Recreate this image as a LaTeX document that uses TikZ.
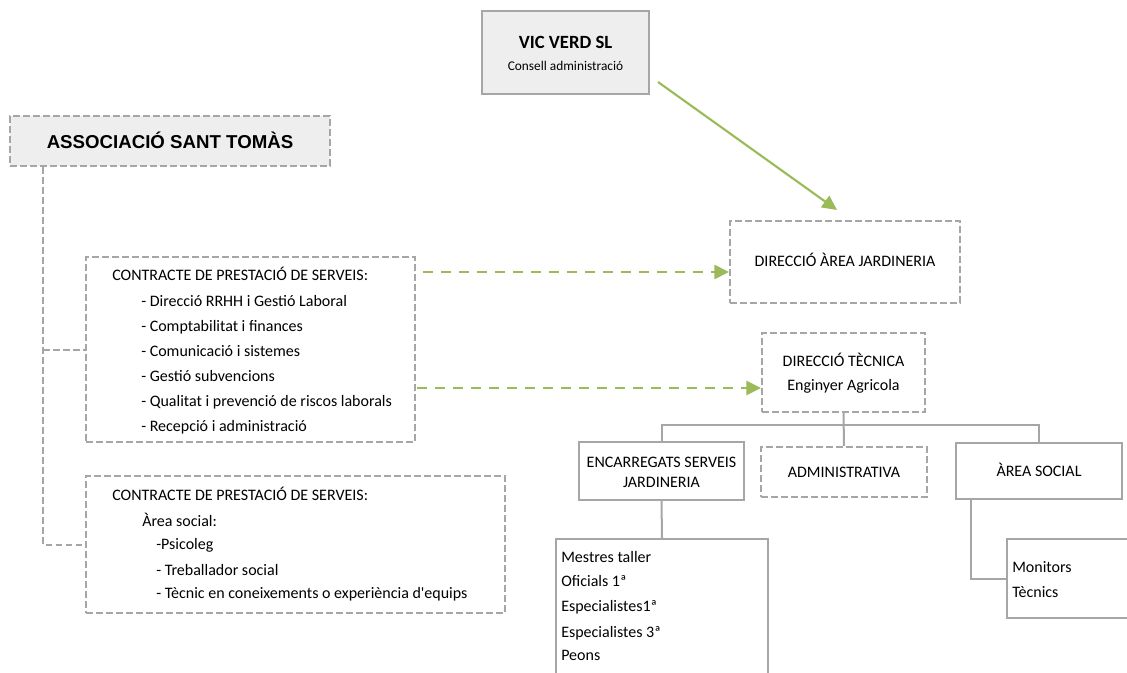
\documentclass[tikz,border=0pt]{standalone}
\usepackage{fontspec}
\setmainfont{Carlito}[Ligatures=TeXOff]
\newfontfamily\arialf{Liberation Sans}
\usetikzlibrary{arrows.meta}
\definecolor{lgray}{RGB}{166,166,166}
\definecolor{lfill}{RGB}{238,238,238}
\definecolor{vgreen}{RGB}{155,187,89}
\newcommand\bodyf{\fontsize{12}{14}\selectfont}
\begin{document}
\begin{tikzpicture}[x=0.75pt,y=-0.75pt,
  sbox/.style={draw=lgray, line width=1.5pt, inner sep=0pt, rectangle},
  dbox/.style={draw=lgray, line width=1.5pt, dash pattern=on 5pt off 2.5pt, inner sep=0pt, rectangle},
  conn/.style={draw=lgray, line width=1.5pt},
  dconn/.style={draw=lgray, line width=1.5pt, dash pattern=on 5pt off 2.5pt},
  garrow/.style={draw=vgreen, line width=1.6pt, -{Triangle[length=11pt,width=10.5pt]}},
  gdarrow/.style={garrow, line width=2pt, dash pattern=on 7.5pt off 6pt},
  tc/.style={anchor=base, inner sep=0pt, font=\bodyf},
  tl/.style={anchor=base west, inner sep=0pt, font=\bodyf}]
\useasboundingbox (0,0) rectangle (1127,673);
\clip (0,0) rectangle (1127,673);
\fill[white] (0,0) rectangle (1127,673);

% boxes
\node[sbox, line width=2pt, fill=lfill, minimum width=125.25pt, minimum height=62.25pt] (vic) at (565.5,52.5) {};
\node[dbox, fill=lfill, minimum width=240pt, minimum height=37.5pt] (ast) at (170,141) {};
\node[dbox, minimum width=172.5pt, minimum height=61.5pt] (daj) at (845,262) {};
\node[dbox, minimum width=246.75pt, minimum height=138.75pt] (c1) at (250.5,349.5) {};
\node[dbox, minimum width=314.25pt, minimum height=102.75pt] (c2) at (295.5,544.5) {};
\node[dbox, minimum width=122.25pt, minimum height=59.25pt] (dt) at (843.5,372.5) {};
\node[sbox, minimum width=123.75pt, minimum height=43.5pt] (enc) at (661.5,471) {};
\node[dbox, minimum width=124.5pt, minimum height=37.5pt] (adm) at (844,472) {};
\node[sbox, minimum width=124.5pt, minimum height=42pt] (as) at (1039,471) {};
\node[sbox, minimum width=159pt, minimum height=120.75pt] (lst) at (662,619.5) {};
\node[sbox, minimum width=99.75pt, minimum height=59.25pt] (mon) at (1073.5,578.5) {};

% texts
\node[tc, font=\bfseries\fontsize{14}{16}\selectfont] (vict) at (565.5,48.5) {VIC VERD SL};
\node[tc, font=\fontsize{10}{12}\selectfont] (vics) at (565.5,70.3) {Consell administració};
\node[tc, font=\arialf\bfseries\fontsize{14}{16}\selectfont] (astt) at (170,148.5) {ASSOCIACIÓ SANT TOMÀS};
\node[tc] (dajt) at (845,267) {DIRECCIÓ ÀREA JARDINERIA};
\node[tc] (dtt1) at (843.5,366) {DIRECCIÓ TÈCNICA};
\node[tc] (dtt2) at (843.5,390) {Enginyer Agricola};
\node[tc] (enct1) at (661.5,467) {ENCARREGATS SERVEIS};
\node[tc] (enct2) at (661.5,487) {JARDINERIA};
\node[tc] (admt) at (844,477) {ADMINISTRATIVA};
\node[tc] (ast1) at (1039,476) {ÀREA SOCIAL};

\node[tl] (c1t0) at (112,281) {CONTRACTE DE PRESTACIÓ DE SERVEIS:};
\node[tl] (c1t1) at (141,307) {- Direcció RRHH i Gestió Laboral};
\node[tl] (c1t2) at (141,331) {- Comptabilitat i finances};
\node[tl] (c1t3) at (141,356) {- Comunicació i sistemes};
\node[tl] (c1t4) at (141,381) {- Gestió subvencions};
\node[tl] (c1t5) at (141,406) {- Qualitat i prevenció de riscos laborals};
\node[tl] (c1t6) at (141,431) {- Recepció i administració};

\node[tl] (c2t0) at (112,500) {CONTRACTE DE PRESTACIÓ DE SERVEIS:};
\node[tl] (c2t1) at (142,526) {Àrea social:};
\node[tl] (c2t2) at (156,549) {-Psicoleg};
\node[tl] (c2t3) at (156,575) {- Treballador social};
\node[tl] (c2t4) at (156,598) {- Tècnic en coneixements o experiència d'equips};

\node[tl] (l1) at (561,562) {Mestres taller};
\node[tl] (l2) at (561,586) {Oficials 1ª};
\node[tl] (l3) at (561,611) {Especialistes1ª};
\node[tl] (l4) at (561,637) {Especialistes 3ª};
\node[tl] (l5) at (561,660) {Peons};

\node[tl] (m1) at (1012,572) {Monitors};
\node[tl] (m2) at (1012,597) {Tècnics};

% connectors
\coordinate (ga1) at (658,82);
\coordinate (ga2) at (837,210);
\draw[garrow] (ga1) -- (ga2);
\coordinate (gd1) at (423,272);
\draw[gdarrow] (gd1) -- (gd1 -| daj.west);
\coordinate (gd2) at (417,388);
\draw[gdarrow] (gd2) -- (gd2 -| dt.west);

\coordinate (tkx) at (43,0);
\draw[dconn] (ast.south -| tkx) |- (c2.west);
\draw[dconn] (c1.west -| tkx) -- (c1.west);

\coordinate (bus) at (0,425);
\draw[conn] (dt.south) -- (adm.north);
\draw[conn] (enc.north) -- (enc.north |- bus) -- (as.north |- bus) -- (as.north);
\draw[conn] (enc.south) -- (lst.north);
\draw[conn] ([xshift=12pt]as.south west) |- (mon.west);
\end{tikzpicture}
\end{document}
